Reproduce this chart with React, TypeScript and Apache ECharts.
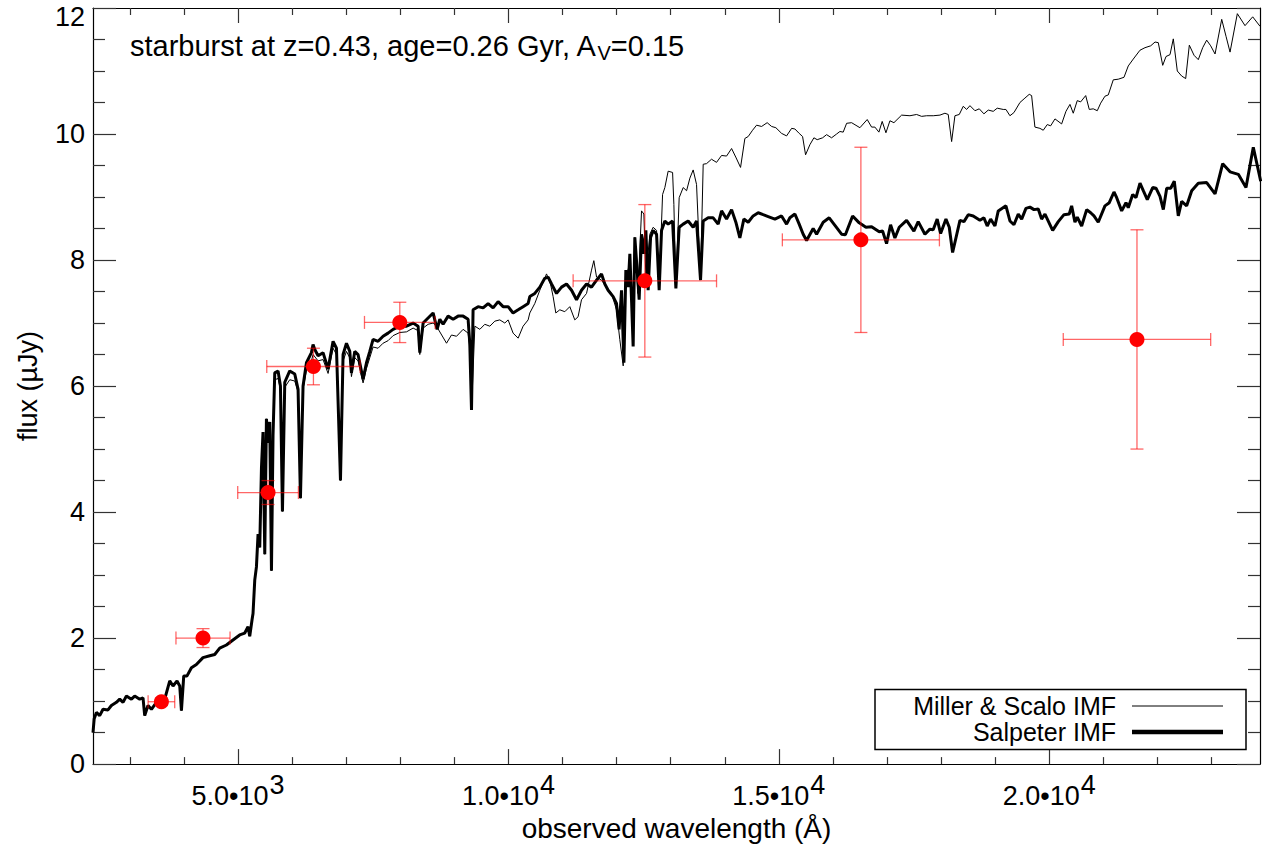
import { useEffect, useRef } from 'react';
import * as echarts from 'echarts';

// ---------------- data ----------------
const X_MIN = 2318;
const X_MAX = 23897;
const Y_MIN = 0;
const Y_MAX = 12;

const xMajorTicks = [5000, 10000, 15000, 20000];
const xMajorMantissa = ['5.0', '1.0', '1.5', '2.0'];
const xMajorExponent = ['3', '4', '4', '4'];
const xMinorTicks = [3000, 4000, 6000, 7000, 8000, 9000, 11000, 12000, 13000, 14000, 16000, 17000, 18000, 19000, 21000, 22000, 23000];
const yTickValues = [0, 2, 4, 6, 8, 10, 12];

// part of the model spectrum shared by both IMFs (rest-frame UV, observed < 5650 Å)
const sharedSpectrum: [number, number][] = [
  [2318, 0.5], [2340, 0.72], [2381, 0.82], [2442, 0.77], [2503, 0.87], [2595, 0.86], [2658, 0.93],
  [2751, 0.98], [2812, 1.03], [2873, 0.98], [2936, 1.08], [3028, 1.03], [3089, 1.08], [3182, 1.03],
  [3243, 1.05], [3274, 0.77], [3335, 0.93], [3398, 0.87], [3491, 0.98], [3644, 1.03], [3737, 1.32],
  [3798, 1.24], [3872, 1.32], [3922, 1.24], [3953, 0.85], [3996, 1.40], [4057, 1.40], [4138, 1.53],
  [4230, 1.58], [4352, 1.69], [4477, 1.72], [4569, 1.74], [4661, 1.84], [4785, 1.89], [4907, 1.97],
  [5031, 2.05], [5124, 2.08], [5185, 2.18], [5216, 2.03], [5259, 2.29], [5277, 2.39], [5309, 2.92],
  [5340, 3.13], [5370, 3.65], [5401, 3.44], [5433, 4.70], [5462, 5.27], [5494, 3.33], [5525, 5.48],
  [5555, 5.1], [5586, 5.43], [5618, 3.07], [5647, 5.22],
];

// Salpeter IMF (thick line), observed > 5650 Å
const salpeterSpectrum: [number, number][] = [
  [5679, 6.21], [5740, 6.24], [5784, 6.0], [5821, 4.01], [5864, 6.06], [5956, 6.24], [6049, 6.19],
  [6110, 5.95], [6154, 4.22], [6202, 6.0], [6265, 6.37], [6357, 6.53], [6387, 6.66], [6419, 6.58],
  [6480, 6.48], [6572, 6.53], [6665, 6.27], [6757, 6.71], [6820, 6.6], [6894, 4.5], [6942, 6.5],
  [7005, 6.68], [7066, 6.55], [7097, 6.21], [7158, 6.55], [7219, 6.5], [7312, 6.11], [7375, 6.37],
  [7436, 6.55], [7497, 6.74], [7589, 6.71], [7682, 6.79], [7774, 6.84], [7867, 6.9], [7991, 6.95],
  [8115, 6.95], [8237, 7.0], [8329, 6.95], [8361, 6.53], [8422, 7.0], [8514, 7.08], [8607, 7.16],
  [8681, 6.9], [8731, 7.06], [8792, 6.98], [8884, 7.11], [8977, 7.06], [9069, 7.11], [9162, 7.11],
  [9254, 7.06], [9285, 6.68], [9317, 5.62], [9346, 7.21], [9439, 7.26], [9531, 7.24], [9624, 7.31],
  [9716, 7.24], [9809, 7.34], [9901, 7.26], [9994, 7.26], [10086, 7.16], [10179, 7.21], [10271, 7.26],
  [10364, 7.31], [10395, 7.42], [10487, 7.47], [10580, 7.57], [10672, 7.71], [10734, 7.73], [10797, 7.62],
  [10889, 7.47], [10982, 7.57], [11074, 7.62], [11167, 7.52], [11259, 7.37], [11351, 7.52], [11444, 7.62],
  [11536, 7.57], [11629, 7.68], [11721, 7.78], [11782, 7.62], [11843, 7.52], [11936, 7.42], [11998, 7.31],
  [12046, 6.9], [12091, 7.52], [12135, 6.37], [12171, 7.84], [12213, 7.57], [12245, 8.1], [12276, 7.37],
  [12306, 6.63], [12337, 8.36], [12380, 7.84], [12417, 7.37], [12461, 8.41], [12504, 8.1], [12541, 8.47],
  [12583, 7.52], [12628, 8.36], [12676, 8.47], [12739, 8.41], [12787, 7.52], [12831, 8.47], [12892, 8.62],
  [12953, 8.57], [13035, 8.62], [13096, 7.55], [13157, 8.52], [13231, 8.57], [13323, 8.62], [13416, 8.52],
  [13478, 8.62], [13552, 7.68], [13601, 8.62], [13693, 8.67], [13786, 8.67], [13878, 8.57], [13941, 8.78],
  [14033, 8.65], [14126, 8.8], [14205, 8.6], [14279, 8.35], [14353, 8.65], [14433, 8.6], [14525, 8.7],
  [14618, 8.75], [14710, 8.72], [14803, 8.69], [14927, 8.65], [15050, 8.7], [15143, 8.57], [15204, 8.67],
  [15297, 8.73], [15376, 8.57], [15450, 8.41], [15513, 8.31], [15635, 8.5], [15698, 8.41], [15820, 8.6],
  [15931, 8.67], [16037, 8.55], [16160, 8.41], [16230, 8.4], [16364, 8.7], [16486, 8.59], [16610, 8.52],
  [16715, 8.53], [16856, 8.45], [16918, 8.46], [16992, 8.26], [17066, 8.56], [17146, 8.35], [17226, 8.52],
  [17362, 8.63], [17497, 8.46], [17577, 8.61], [17701, 8.41], [17793, 8.49], [17854, 8.48], [17928, 8.65],
  [17991, 8.42], [18090, 8.65], [18151, 8.52], [18213, 8.12], [18349, 8.63], [18423, 8.61], [18502, 8.72],
  [18594, 8.7], [18718, 8.63], [18792, 8.67], [18853, 8.54], [18916, 8.65], [18996, 8.54], [19057, 8.78],
  [19199, 8.86], [19273, 8.62], [19347, 8.56], [19427, 8.73], [19490, 8.65], [19569, 8.82], [19643, 8.84],
  [19718, 8.8], [19797, 8.81], [19859, 8.65], [19921, 8.73], [20063, 8.47], [20167, 8.61], [20272, 8.72],
  [20370, 8.73], [20414, 8.86], [20475, 8.6], [20518, 8.68], [20599, 8.54], [20692, 8.8], [20766, 8.75],
  [20827, 8.7], [20906, 8.6], [21030, 8.86], [21110, 8.91], [21197, 9.08], [21247, 8.99], [21339, 8.78],
  [21419, 8.91], [21461, 8.83], [21543, 9.04], [21604, 8.99], [21678, 9.22], [21739, 9.1], [21813, 8.96],
  [21913, 9.15], [21974, 9.14], [22048, 9.01], [22109, 8.8], [22172, 9.14], [22246, 9.14], [22312, 9.25],
  [22386, 8.7], [22449, 8.93], [22541, 8.86], [22634, 9.1], [22756, 9.22], [22911, 9.23], [23066, 9.05],
  [23207, 9.53], [23343, 9.4], [23496, 9.36], [23638, 9.15], [23773, 9.79], [23910, 9.25],
];

// Miller & Scalo IMF (thin line), observed > 5650 Å
const millerSpectrum: [number, number][] = [
  [5679, 6.1], [5740, 6.12], [5784, 5.95], [5821, 4.01], [5864, 5.98], [5956, 6.1], [6049, 6.08],
  [6110, 5.9], [6154, 4.22], [6202, 5.95], [6265, 6.25], [6357, 6.4], [6387, 6.5], [6480, 6.4],
  [6572, 6.42], [6665, 6.2], [6757, 6.6], [6820, 6.5], [6894, 4.5], [6942, 6.4], [7005, 6.55],
  [7066, 6.45], [7097, 6.15], [7158, 6.45], [7219, 6.4], [7312, 6.05], [7375, 6.28], [7436, 6.45],
  [7497, 6.62], [7589, 6.6], [7682, 6.68], [7774, 6.72], [7867, 6.8], [7991, 6.85], [8115, 6.86],
  [8237, 6.92], [8329, 6.88], [8361, 6.5], [8422, 6.92], [8514, 6.98], [8607, 7.0], [8669, 6.95],
  [8855, 6.68], [8947, 6.81], [9040, 6.79], [9162, 6.9], [9254, 6.84], [9285, 6.6], [9317, 5.62],
  [9379, 6.95], [9471, 6.9], [9563, 6.98], [9656, 6.95], [9748, 7.03], [9840, 7.05], [9933, 7.0],
  [9994, 7.05], [10086, 6.84], [10179, 6.76], [10271, 6.95], [10364, 7.05], [10395, 7.16], [10487, 7.31],
  [10580, 7.52], [10704, 7.78], [10778, 7.62], [10826, 7.42], [10876, 7.16], [10950, 7.21], [11042, 7.18],
  [11135, 7.26], [11227, 7.05], [11288, 7.1], [11351, 7.37], [11444, 7.47], [11536, 7.84], [11579, 7.99],
  [11629, 7.73], [11721, 7.68], [11814, 7.57], [11906, 7.47], [11998, 7.21], [12059, 6.74], [12122, 6.32],
  [12171, 7.73], [12245, 7.94], [12306, 6.7], [12337, 8.36], [12393, 7.47], [12461, 8.78], [12504, 8.73],
  [12541, 7.73], [12615, 8.41], [12676, 8.52], [12739, 8.47], [12787, 7.57], [12850, 9.04], [12892, 9.15],
  [12953, 9.41], [13035, 9.39], [13059, 8.88], [13096, 7.57], [13157, 8.99], [13231, 9.15], [13294, 9.1],
  [13355, 9.3], [13416, 9.43], [13478, 9.2], [13552, 7.73], [13601, 9.52], [13663, 9.53], [13755, 9.6],
  [13848, 9.55], [13941, 9.66], [14033, 9.65], [14126, 9.77], [14211, 9.62], [14292, 9.47], [14372, 9.93],
  [14433, 9.96], [14514, 10.06], [14588, 10.14], [14681, 10.12], [14784, 10.18], [14866, 10.12], [14945, 10.1],
  [15051, 10.01], [15143, 9.97], [15236, 10.09], [15297, 10.08], [15376, 10.01], [15439, 9.96], [15494, 9.67],
  [15574, 9.83], [15648, 9.94], [15709, 9.91], [15809, 9.94], [15883, 9.99], [15975, 9.94], [16068, 10.0],
  [16129, 10.04], [16190, 10.03], [16253, 10.17], [16345, 10.18], [16499, 10.1], [16634, 10.23], [16715, 10.11],
  [16776, 10.11], [16850, 10.03], [16911, 10.2], [16980, 10.02], [17054, 10.21], [17128, 10.18], [17270, 10.3],
  [17424, 10.29], [17547, 10.31], [17640, 10.28], [17732, 10.29], [17855, 10.29], [17979, 10.3], [18071, 10.33],
  [18132, 10.31], [18195, 9.88], [18256, 10.29], [18336, 10.31], [18410, 10.44], [18472, 10.39], [18534, 10.45],
  [18626, 10.37], [18706, 10.4], [18792, 10.32], [18872, 10.38], [18964, 10.36], [19038, 10.41], [19149, 10.39],
  [19199, 10.39], [19273, 10.29], [19347, 10.34], [19458, 10.5], [19550, 10.57], [19630, 10.63], [19674, 10.61],
  [19735, 10.11], [19828, 10.09], [19889, 10.06], [19963, 10.15], [20026, 10.13], [20106, 10.24], [20229, 10.16],
  [20309, 10.36], [20383, 10.47], [20444, 10.33], [20518, 10.53], [20581, 10.51], [20674, 10.61], [20740, 10.39],
  [20814, 10.4], [20888, 10.37], [20951, 10.49], [21030, 10.6], [21091, 10.62], [21184, 10.86], [21276, 10.87],
  [21382, 10.9], [21461, 11.08], [21554, 11.19], [21678, 11.33], [21770, 11.37], [21876, 11.4], [21956, 11.46],
  [22016, 11.45], [22098, 11.09], [22159, 11.23], [22233, 11.26], [22294, 11.51], [22368, 11.0], [22449, 10.92],
  [22523, 10.88], [22590, 11.41], [22677, 11.25], [22756, 11.18], [22837, 11.37], [22911, 11.49], [22985, 11.4],
  [23066, 11.27], [23189, 11.82], [23269, 11.55], [23343, 11.3], [23478, 11.91], [23620, 11.72], [23762, 11.86],
  [23897, 11.71],
];

// photometric points
const photWave = [3583, 4352, 5555, 6394, 7991, 12522, 16517, 21622];
const photFlux = [0.99, 2.0, 4.31, 6.31, 7.01, 7.67, 8.32, 6.74];
const photWaveErr = [246, 500, 561, 863, 653, 1326, 1452, 1363];
const photFluxErr = [0.06, 0.15, 0.19, 0.29, 0.32, 1.21, 1.47, 1.74];

const seriesNames = ['Miller & Scalo IMF', 'Salpeter IMF'];
const annotation = 'starburst at z=0.43, age=0.26 Gyr, A';

// ---------------- chart ----------------
const FONT = '"Liberation Sans", Arial, Helvetica, sans-serif';
const TICK = '#333';
const ERR = 'rgba(255,0,0,0.6)';

function buildOption(): any {
  const millerData = [...sharedSpectrum, ...millerSpectrum];
  const salpeterData = [...sharedSpectrum, ...salpeterSpectrum];
  const photData = photWave.map((w, i) => [w, photFlux[i], photWaveErr[i], photFluxErr[i]]);
  const dotData = photWave.map((w, i) => [w, photFlux[i]]);

  const xBase = (pos: 'bottom' | 'top') => ({
    type: 'value',
    position: pos,
    min: X_MIN,
    max: X_MAX,
    splitLine: { show: false },
    axisLabel: { show: false },
  });

  const yBase = (pos: 'left' | 'right') => ({
    type: 'value',
    position: pos,
    min: Y_MIN,
    max: Y_MAX,
    interval: 2,
    splitLine: { show: false },
    minorSplitLine: { show: false },
    axisLine: { show: true, onZero: false, lineStyle: { color: '#000', width: 1.2 } },
    axisTick: { show: true, inside: true, length: 23, lineStyle: { color: TICK, width: 1.2 } },
    minorTick: { show: true, splitNumber: 4, length: 12, lineStyle: { color: TICK, width: 1.2 } },
  });

  return {
    animation: false,
    backgroundColor: '#fff',
    textStyle: { fontFamily: FONT },
    grid: { left: 93, right: 3, top: 8, bottom: 74, containLabel: false },
    xAxis: [
      {
        ...xBase('bottom'),
        axisLine: { show: true, onZero: false, lineStyle: { color: '#000', width: 1.2 } },
        axisTick: { show: true, inside: true, length: 15, customValues: xMajorTicks, lineStyle: { color: TICK, width: 1.2 } },
        axisLabel: {
          show: true,
          customValues: xMajorTicks,
          margin: 7,
          formatter: (v: number) => {
            const i = xMajorTicks.indexOf(v);
            if (i < 0) return '';
            return `{m|${xMajorMantissa[i]}•10}{e|${xMajorExponent[i]}}`;
          },
          rich: {
            m: { fontSize: 27, fontFamily: FONT, color: '#000', verticalAlign: 'bottom' },
            e: { fontSize: 27, fontFamily: FONT, color: '#000', verticalAlign: 'bottom', padding: [0, 0, 11, 1] },
          },
        },
        name: 'observed wavelength (Å)',
        nameLocation: 'middle',
        nameGap: 46,
        nameTextStyle: { fontSize: 28, color: '#000', fontFamily: FONT },
      },
      {
        ...xBase('bottom'),
        axisLine: { show: false, onZero: false },
        axisTick: { show: true, inside: true, length: 7, customValues: xMinorTicks, lineStyle: { color: TICK, width: 1.2 } },
      },
      {
        ...xBase('top'),
        axisLine: { show: true, onZero: false, lineStyle: { color: '#000', width: 1.2 } },
        axisTick: { show: true, inside: true, length: 15, customValues: xMajorTicks, lineStyle: { color: TICK, width: 1.2 } },
      },
      {
        ...xBase('top'),
        axisLine: { show: false, onZero: false },
        axisTick: { show: true, inside: true, length: 7, customValues: xMinorTicks, lineStyle: { color: TICK, width: 1.2 } },
      },
    ],
    yAxis: [
      {
        ...yBase('left'),
        axisLabel: {
          show: true,
          margin: 8,
          customValues: yTickValues,
          formatter: (v: number) => (v === Y_MAX ? `{t|${v}}` : `{n|${v}}`),
          rich: {
            n: { fontSize: 27, fontFamily: FONT, color: '#000' },
            t: { fontSize: 27, fontFamily: FONT, color: '#000', padding: [18, 0, 0, 0] },
          },
        },
        name: 'flux (µJy)',
        nameLocation: 'middle',
        nameGap: 52,
        nameRotate: 90,
        nameTextStyle: { fontSize: 27, color: '#000', fontFamily: FONT },
      },
      {
        ...yBase('right'),
        axisLabel: { show: false },
      },
    ],
    graphic: [
      {
        type: 'text',
        x: 130,
        y: 47,
        silent: true,
        style: {
          text: `{n|${annotation}}{s|V}{n|=0.15}`,
          verticalAlign: 'middle',
          rich: {
            n: { fontSize: 29, fontFamily: FONT, fill: '#000', verticalAlign: 'top' },
            s: { fontSize: 20, fontFamily: FONT, fill: '#000', verticalAlign: 'top', padding: [12, 0, 0, 0] },
          },
        },
      },
      {
        type: 'group',
        silent: true,
        children: [
          { type: 'rect', shape: { x: 875, y: 689.5, width: 371, height: 60 }, style: { fill: '#fff', stroke: '#000', lineWidth: 1.5 }, z: 100 },
          {
            type: 'text', x: 1116, y: 706, z: 101,
            style: { text: seriesNames[0], fontSize: 25, fontFamily: FONT, fill: '#000', align: 'right', verticalAlign: 'middle' },
          },
          {
            type: 'text', x: 1116, y: 732, z: 101,
            style: { text: seriesNames[1], fontSize: 25, fontFamily: FONT, fill: '#000', align: 'right', verticalAlign: 'middle' },
          },
          { type: 'line', z: 101, shape: { x1: 1132, y1: 706, x2: 1223, y2: 706 }, style: { stroke: '#000', lineWidth: 1 } },
          { type: 'line', z: 101, shape: { x1: 1132, y1: 732, x2: 1223, y2: 732 }, style: { stroke: '#000', lineWidth: 4.5 } },
        ],
      },
    ],
    series: [
      {
        name: seriesNames[0],
        type: 'line',
        data: millerData,
        showSymbol: false,
        symbol: 'none',
        silent: true,
        clip: true,
        z: 3,
        lineStyle: { color: '#000', width: 1 },
      },
      {
        name: seriesNames[1],
        type: 'line',
        data: salpeterData,
        showSymbol: false,
        symbol: 'none',
        silent: true,
        clip: true,
        z: 2,
        lineStyle: { color: '#000', width: 3 },
      },
      {
        name: 'errors',
        type: 'custom',
        silent: true,
        z: 4,
        data: photData,
        encode: { x: 0, y: 1 },
        renderItem: (_p: any, api: any) => {
          const x = api.value(0);
          const y = api.value(1);
          const xe = api.value(2);
          const ye = api.value(3);
          const c = api.coord([x, y]);
          const l = api.coord([x - xe, y]);
          const r = api.coord([x + xe, y]);
          const t = api.coord([x, y + ye]);
          const b = api.coord([x, y - ye]);
          const cap = 6.5;
          const style = { stroke: ERR, lineWidth: 1.3, fill: null };
          const ln = (x1: number, y1: number, x2: number, y2: number) => ({ type: 'line', shape: { x1, y1, x2, y2 }, style });
          return {
            type: 'group',
            children: [
              ln(l[0], c[1], r[0], c[1]),
              ln(l[0], c[1] - cap, l[0], c[1] + cap),
              ln(r[0], c[1] - cap, r[0], c[1] + cap),
              ln(c[0], t[1], c[0], b[1]),
              ln(c[0] - cap, t[1], c[0] + cap, t[1]),
              ln(c[0] - cap, b[1], c[0] + cap, b[1]),
            ],
          };
        },
      },
      {
        name: 'photometry',
        type: 'scatter',
        silent: true,
        z: 5,
        data: dotData,
        symbol: 'circle',
        symbolSize: 15,
        itemStyle: { color: '#ff0000', opacity: 1 },
      },
    ],
  };
}

export default function App() {
  const ref = useRef<HTMLDivElement>(null);
  useEffect(() => {
    if (!ref.current) return;
    const chart = echarts.init(ref.current, null, { renderer: 'svg' });
    chart.setOption(buildOption());
    return () => chart.dispose();
  }, []);
  return (
    <div
      ref={ref}
      style={{ position: 'fixed', left: 0, top: 0, width: 1263, height: 847, background: '#fff' }}
    />
  );
}
